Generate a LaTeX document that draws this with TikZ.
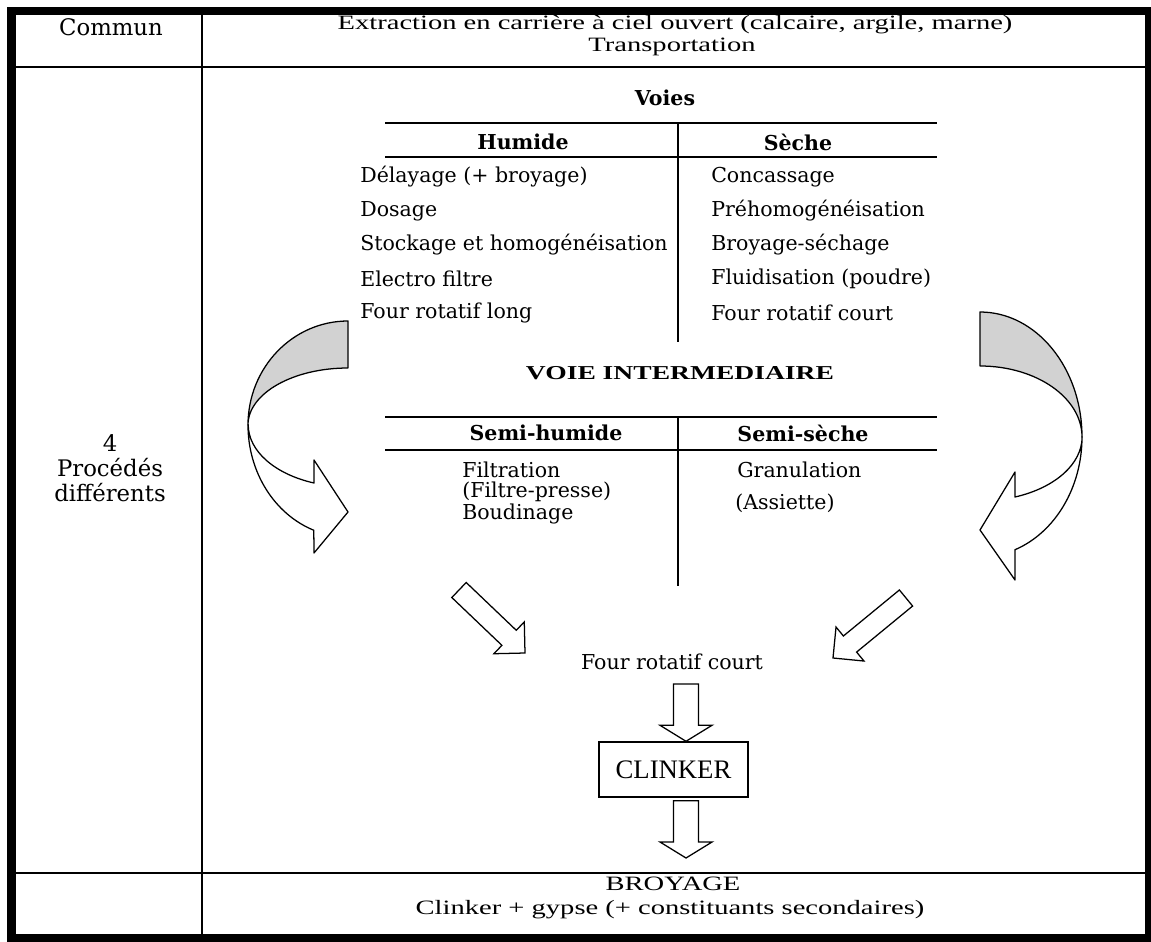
\documentclass[tikz,border=0pt]{standalone}
\usepackage{fontspec}
\setmainfont{DejaVu Serif}
\newfontfamily\tmsfont[FakeStretch=1.4]{Liberation Serif}
\newfontfamily\tmsplain{Liberation Serif}
\usetikzlibrary{calc}

\newcommand{\bodytxt}{\fontsize{14.6}{18}\selectfont}
\newcommand{\sidetxt}{\fontsize{16.2}{17.8}\selectfont}
\newcommand{\tmstxt}{\tmsfont\fontsize{14.5}{15}\selectfont}

% hollow block arrow: from, to, shaft half width, head half width, head length
\newcommand{\blockarrow}[5]{%
  \coordinate (ba-h) at ($(#2)!#5!(#1)$);
  \draw[fatarrow] ($(#1)!#3!90:(#2)$) -- ($(ba-h)!#3!90:(#2)$) -- ($(ba-h)!#4!90:(#2)$) -- (#2)
    -- ($(ba-h)!#4!-90:(#2)$) -- ($(ba-h)!#3!-90:(#2)$) -- ($(#1)!#3!-90:(#2)$) -- cycle;
}

\tikzset{
  rule/.style={line width=1.3pt},
  frame/.style={line width=5.7pt},
  item/.style={anchor=west, inner sep=0pt, font=\bodytxt},
  head/.style={inner sep=0pt, font=\bodytxt\bfseries},
  tms/.style={inner sep=0pt, font=\tmstxt},
  fatarrow/.style={draw, line width=0.9pt, fill=white, line join=miter},
  band/.style={draw, line width=0.9pt, line join=round},
}

\begin{document}
\begin{tikzpicture}[x=0.025cm, y=-0.025cm]
        \useasboundingbox (0,0) rectangle (1151,941);
        \clip (0,0) rectangle (1151,941);

        % Outer table
        \draw[frame] (11.5,11) rectangle (1149,938);
        \draw[rule] (202,11) -- (202,938);
        \draw[rule] (11,67) -- (1149,67);
        \draw[rule] (11,873) -- (1149,873);

        % First column
        \node[inner sep=0pt, font=\sidetxt] (commun) at (111,27) {Commun};
        \node[inner sep=0pt, align=center, font=\sidetxt] (procedes) at (110,468) {4\\Procédés\\différents};

        % First row
        \node[tms] (extraction) at (675,25) {Extraction en carrière à ciel ouvert (calcaire, argile, marne)};
        \node[tms] (transport) at (672,47) {Transportation};

        % Voies humide / seche
        \node[head] (voies) at (665,98) {Voies};
        \draw[rule] (385,123) -- (937,123);
        \draw[rule] (385,157) -- (937,157);
        \draw[rule] (678,123) -- (678,342);
        \node[head] (humide) at (523,142) {Humide};
        \node[head] (seche) at (798,142) {Sèche};
        \foreach \t [count=\i] in {Délayage (+ broyage), Dosage, Stockage et homogénéisation, Electro filtre, Four rotatif long}
            \node[item] (h\i) at (360,143+34*\i) {\t};
        \foreach \t [count=\i] in {Concassage, Préhomogénéisation, Broyage-séchage, Fluidisation (poudre), Four rotatif court}
            \node[item] (s\i) at (711,143+34*\i) {\t};

        % Voie intermediaire
        \node[tms, font=\tmsfont\fontsize{14}{16}\selectfont\bfseries] (inter) at (680,373) {VOIE INTERMEDIAIRE};
        \draw[rule] (385,417) -- (937,417);
        \draw[rule] (385,450) -- (937,450);
        \draw[rule] (678,417) -- (678,586);
        \node[head] (semih) at (546,433) {Semi-humide};
        \node[head] (semis) at (803,433) {Semi-sèche};
        \node[item] (sh1) at (462,470) {Filtration};
        \node[item] (sh2) at (462,492) {(Filtre-presse)};
        \node[item] (sh3) at (462,514) {Boudinage};
        \node[item] (ss1) at (737,470) {Granulation};
        \node[item] (ss2) at (735,503) {(Assiette)};

        % Curved arrows (left and right)
        \draw[band, fill=gray!35] (348,321) arc[start angle=270, end angle=180, x radius=100, y radius=104]
            arc[start angle=180, end angle=270, x radius=100, y radius=57] -- cycle;
        \draw[band, fill=white] (248,425) arc[start angle=180, end angle=110, x radius=100, y radius=112]
            -- (314,553) -- (348,512) -- (314,460) -- (314,483)
            arc[start angle=110, end angle=180, x radius=100, y radius=62] -- cycle;
        \draw[band, fill=gray!35] (980,312) arc[start angle=270, end angle=360, x radius=102, y radius=125]
            arc[start angle=0, end angle=-90, x radius=102, y radius=71] -- cycle;
        \draw[band, fill=white] (1082,437) arc[start angle=0, end angle=70, x radius=102, y radius=120]
            -- (1015,580) -- (980,530) -- (1015,472) -- (1015,497)
            arc[start angle=70, end angle=0, x radius=102, y radius=64] -- cycle;

        % Four, clinker, broyage
        \node[inner sep=0pt, font=\bodytxt] (four) at (672,662) {Four rotatif court};
        \node[draw, line width=1pt, minimum width=3.725cm, minimum height=1.375cm, font=\tmsplain\fontsize{19}{22}\selectfont] (clinker) at (673.5,769.5) {CLINKER};
        \node[tms] (broyage) at (673,884) {BROYAGE};
        \node[tms] (gypse) at (670,910) {Clinker + gypse (+ constituants secondaires)};

        \coordinate (d1s) at (459,590);
        \coordinate (d1e) at (525,653);
        \coordinate (d2s) at (906,598);
        \coordinate (d2e) at (833,658);
        \coordinate (v1s) at (686,684);
        \coordinate (v1e) at ($(clinker.north)+(12.5,0)$);
        \coordinate (v2s) at ($(clinker.south)+(12.5,3)$);
        \coordinate (v2e) at (686,858);

        \blockarrow{d1s}{d1e}{0.26cm}{0.55cm}{0.55cm}
        \blockarrow{d2s}{d2e}{0.26cm}{0.55cm}{0.55cm}
        \blockarrow{v1s}{v1e}{0.31cm}{0.65cm}{0.4cm}
        \blockarrow{v2s}{v2e}{0.31cm}{0.65cm}{0.4cm}
    \end{tikzpicture}
\end{document}
